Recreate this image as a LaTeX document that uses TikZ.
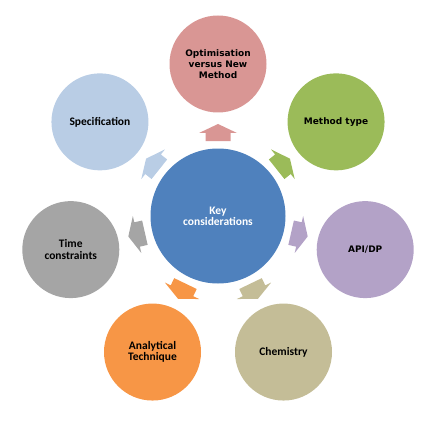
\documentclass[tikz,border=0pt]{standalone}
\usepackage{fontspec}
\newfontfamily\vfont{DejaVu Sans}
\newfontfamily\cfont{Carlito}
\definecolor{cblue}{HTML}{4F81BD}
\definecolor{cred}{HTML}{D99694}
\definecolor{cgreen}{HTML}{9BBB59}
\definecolor{cpurple}{HTML}{B3A2C7}
\definecolor{ctan}{HTML}{C4BD97}
\definecolor{corange}{HTML}{F79646}
\definecolor{cgray}{HTML}{A5A5A5}
\definecolor{clblue}{HTML}{B9CDE5}
\tikzset{
  outer/.style={circle, minimum size=97pt, inner sep=0pt, align=center, text=black},
  vlab/.style={font=\vfont\bfseries\fontsize{9}{11.2}\selectfont},
  clab/.style={font=\cfont\bfseries\fontsize{11.5}{11.2}\selectfont},
}
\begin{document}
\begin{tikzpicture}[x=1pt,y=1pt]
\useasboundingbox (0,0) rectangle (433,421);
\node[circle, minimum size=135pt, inner sep=0pt, fill=cblue, text=white, align=center, clab] (c) at (218,205) {Key\\considerations};
\node[outer, fill=cred, vlab]    (o1) at ([shift={(90:152pt)}]c)      {Optimisation\\versus New\\Method};
\node[outer, fill=cgreen, vlab]  (o2) at ([shift={(38.57:151pt)}]c)   {Method type};
\node[outer, fill=cpurple, vlab] (o3) at ([shift={(-12.86:151pt)}]c)  {API/DP};
\node[outer, fill=ctan, clab]    (o4) at ([shift={(-64.29:151pt)}]c)  {Chemistry};
\node[outer, fill=corange, clab] (o5) at ([shift={(-115.71:151pt)}]c) {Analytical\\Technique};
\node[outer, fill=cgray, clab]   (o6) at ([shift={(-167.14:151pt)}]c) {Time\\constraints};
\node[outer, fill=clblue, clab]  (o7) at ([shift={(141.43:151pt)}]c)  {Specification};
\foreach \ang/\col in {90/cred, 38.57/cgreen, -12.86/cpurple, -64.29/ctan, -115.71/corange, -167.14/cgray, 141.43/clblue}{
  \fill[\col, shift={(c)}, rotate=\ang] (75,-12.5) -- (83,-12.5) -- (83,-19) -- (92,0) -- (83,19) -- (83,12.5) -- (75,12.5) -- cycle;
}
\end{tikzpicture}
\end{document}
